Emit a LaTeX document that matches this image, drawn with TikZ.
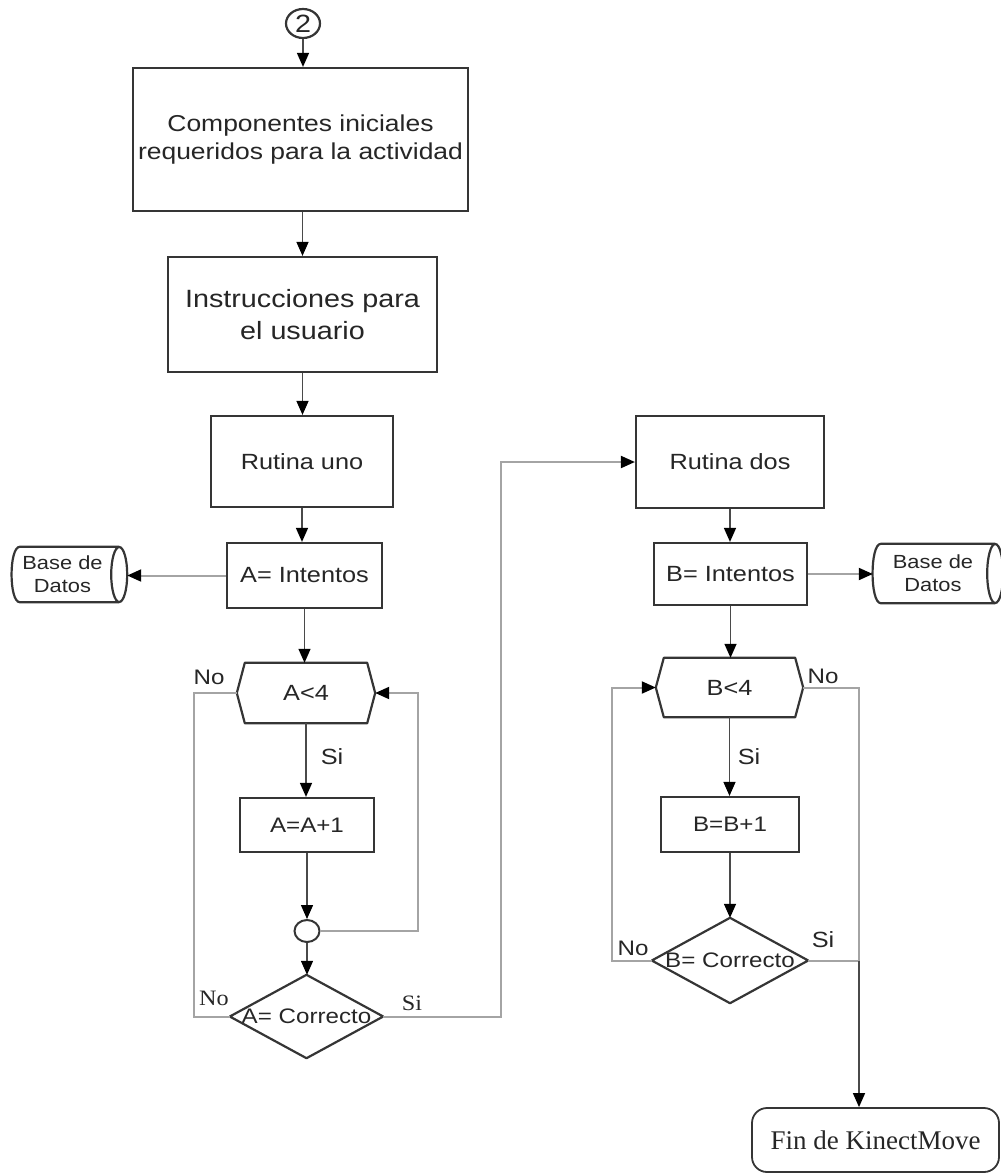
\documentclass[tikz,border=0pt]{standalone}
\usepackage{fontspec}
\newfontfamily\sfw{Liberation Sans}[FakeStretch=1.15]
\newfontfamily\srw{Liberation Serif}[FakeStretch=1.1]
\newfontfamily\finfont{Liberation Serif}
\usetikzlibrary{arrows.meta,shapes.geometric}
\definecolor{edge}{HTML}{353535}
\definecolor{ink}{HTML}{262626}
\definecolor{linedark}{HTML}{4A4A4A}
\definecolor{linelight}{HTML}{A4A4A4}
\begin{document}
\begin{tikzpicture}[x=1pt,y=-1pt,
  box/.style={draw=edge, line width=2.2pt, fill=white, inner sep=0pt, text=ink, align=center},
  holder/.style={draw=none, inner sep=0pt, text=ink, align=center},
  outline/.style={draw=edge, line width=2.2pt},
  tip/.style={-{Triangle[length=14pt,width=12pt,color=black]}},
  flow/.style={draw=linedark, line width=1.4pt, tip},
  loopline/.style={draw=linelight, line width=2pt},
  looparrow/.style={loopline, tip},
  lbl/.style={text=ink, inner sep=0pt},
  f23/.style={font=\sfw\fontsize{23}{28}\selectfont},
  f25/.style={font=\sfw\fontsize{25}{32}\selectfont},
  f22/.style={font=\sfw\fontsize{22}{26}\selectfont},
  f21/.style={font=\sfw\fontsize{21}{25}\selectfont},
  fdb/.style={font=\sfw\fontsize{19}{23}\selectfont},
  fser/.style={font=\srw\fontsize{22}{26}\selectfont},
]
\useasboundingbox (0,0) rectangle (1001,1173);

% ---------- left column ----------
\node[draw=edge, line width=2.2pt, ellipse, minimum width=34pt, minimum height=29pt,
      inner sep=0pt, text=ink, font=\sfw\fontsize{25}{26}\selectfont] (c2) at (303,23.5) {2};
\node[box, minimum width=335pt, minimum height=143pt, f23] (b1) at (300.5,139.5)
  {Componentes iniciales\\requeridos para la actividad};
\node[box, minimum width=269pt, minimum height=115pt, f25] (b2) at (302.5,314.5)
  {Instrucciones para\\el usuario};
\node[box, minimum width=182pt, minimum height=91pt, f22] (r1) at (302,461.5) {Rutina uno};
\node[box, minimum width=155pt, minimum height=65pt, f22] (ai) at (304.5,575.5) {A= Intentos};
\node[holder, minimum width=115pt, minimum height=55pt, fdb] (db1) at (69.5,574.5)
  {\hspace*{-14pt}Base de\\\hspace*{-14pt}Datos};
\node[holder, minimum width=138pt, minimum height=60pt, f22] (hA) at (306,693) {A<4};
\node[box, minimum width=134pt, minimum height=54pt, f21] (ap) at (307,825) {A=A+1};
\node[draw=edge, line width=2pt, ellipse, minimum width=25pt, minimum height=22pt,
      inner sep=0pt] (cA) at (307,931) {};
\node[holder, minimum width=153pt, minimum height=83pt, f21] (dA) at (306.5,1016.5) {A= Correcto};

% ---------- right column ----------
\node[box, minimum width=188pt, minimum height=92pt, f22] (r2) at (730,462) {Rutina dos};
\node[box, minimum width=153pt, minimum height=62pt, f22] (bi) at (730.5,574) {B= Intentos};
\node[holder, minimum width=130pt, minimum height=59pt, fdb] (db2) at (938,573.5)
  {\hspace*{-10pt}Base de\\\hspace*{-10pt}Datos};
\node[holder, minimum width=147pt, minimum height=59pt, f22] (hB) at (729.5,687.5) {B<4};
\node[box, minimum width=138pt, minimum height=55pt, f21] (bp) at (730,824.5) {B=B+1};
\node[holder, minimum width=156pt, minimum height=85pt, f21] (dB) at (730,960.5) {B= Correcto};
\node[draw=edge, line width=1.8pt, rounded corners=15pt, minimum width=247pt, minimum height=64pt,
      inner sep=0pt, text=ink, font=\finfont\fontsize{27}{30}\selectfont] (fin) at (875.5,1140) {Fin de KinectMove};

% ---------- outlines of the special shapes ----------
\foreach \h in {hA,hB}{
  \draw[outline, line join=round] (\h.west) -- ([xshift=8pt]\h.north west) -- ([xshift=-8pt]\h.north east)
    -- (\h.east) -- ([xshift=-8pt]\h.south east) -- ([xshift=8pt]\h.south west) -- cycle;
}
\foreach \d in {dA,dB}{
  \draw[outline, line join=round] (\d.north) -- (\d.east) -- (\d.south) -- (\d.west) -- cycle;
}
% data stores drawn as horizontal cylinders
\foreach \c/\ry in {db1/27.5,db2/29.5}{
  \draw[outline] ([xshift=-8pt]\c.north east) -- ([xshift=8pt]\c.north west)
    .. controls ([xshift=-3pt]\c.north west) and ([xshift=-3pt]\c.south west) .. ([xshift=8pt]\c.south west)
    -- ([xshift=-8pt]\c.south east);
  \draw[outline] ([xshift=-8pt]\c.east) ellipse [x radius=8pt, y radius=\ry pt];
}

% ---------- bend columns ----------
\coordinate (colAL) at (194,0);
\coordinate (colAR) at (418,0);
\coordinate (colM)  at (501,0);
\coordinate (colBL) at (612,0);
\coordinate (colBR) at (859,0);

% ---------- connectors, left ----------
\draw[flow] (c2.south) -- (c2.south |- b1.north);
\draw[flow] (b2.north |- b1.south) -- (b2.north);
\draw[flow] (b2.south) -- (b2.south |- r1.north);
\draw[flow] (r1.south) -- (r1.south |- ai.north);
\draw[looparrow] (ai.west) -- (ai.west -| db1.east);
\draw[flow] (ai.south) -- (ai.south |- hA.north);
\draw[flow] (hA.south) -- (hA.south |- ap.north);
\draw[flow] (ap.south) -- (cA.north);
\draw[flow] (cA.south) -- (cA.south |- dA.north);
\draw[looparrow] (cA.east) -| (colAR |- hA.east) -- (hA.east);
\draw[loopline] (hA.west) -- (colAL |- hA.west) |- (dA.west);
\draw[looparrow] (dA.east) -- (colM |- dA.east) |- (r2.west);

% ---------- connectors, right ----------
\draw[flow] (r2.south) -- (r2.south |- bi.north);
\draw[looparrow] (bi.east) -- (bi.east -| db2.west);
\draw[flow] (bi.south) -- (bi.south |- hB.north);
\draw[flow] (hB.south) -- (hB.south |- bp.north);
\draw[flow] (bp.south) -- (bp.south |- dB.north);
\draw[looparrow] (dB.west) -| (colBL |- hB.west) -- (hB.west);
\draw[loopline] (hB.east) -| (colBR |- dB.east);
\draw[loopline] (dB.east) -- (colBR |- dB.east);
\draw[flow] (colBR |- dB.east) -- (colBR |- fin.north);

% ---------- branch labels ----------
\node[lbl, f21] (noA1) at (209,677) {No};
\node[lbl, f22] (siA1) at (332,757) {Si};
\node[lbl, fser] (noA2) at (214,998) {No};
\node[lbl, fser] (siA2) at (412,1003) {Si};
\node[lbl, f21] (noB1) at (823,676) {No};
\node[lbl, f22] (siB1) at (749,757) {Si};
\node[lbl, f21] (noB2) at (633,948) {No};
\node[lbl, f22] (siB2) at (823,940) {Si};
\end{tikzpicture}
\end{document}
